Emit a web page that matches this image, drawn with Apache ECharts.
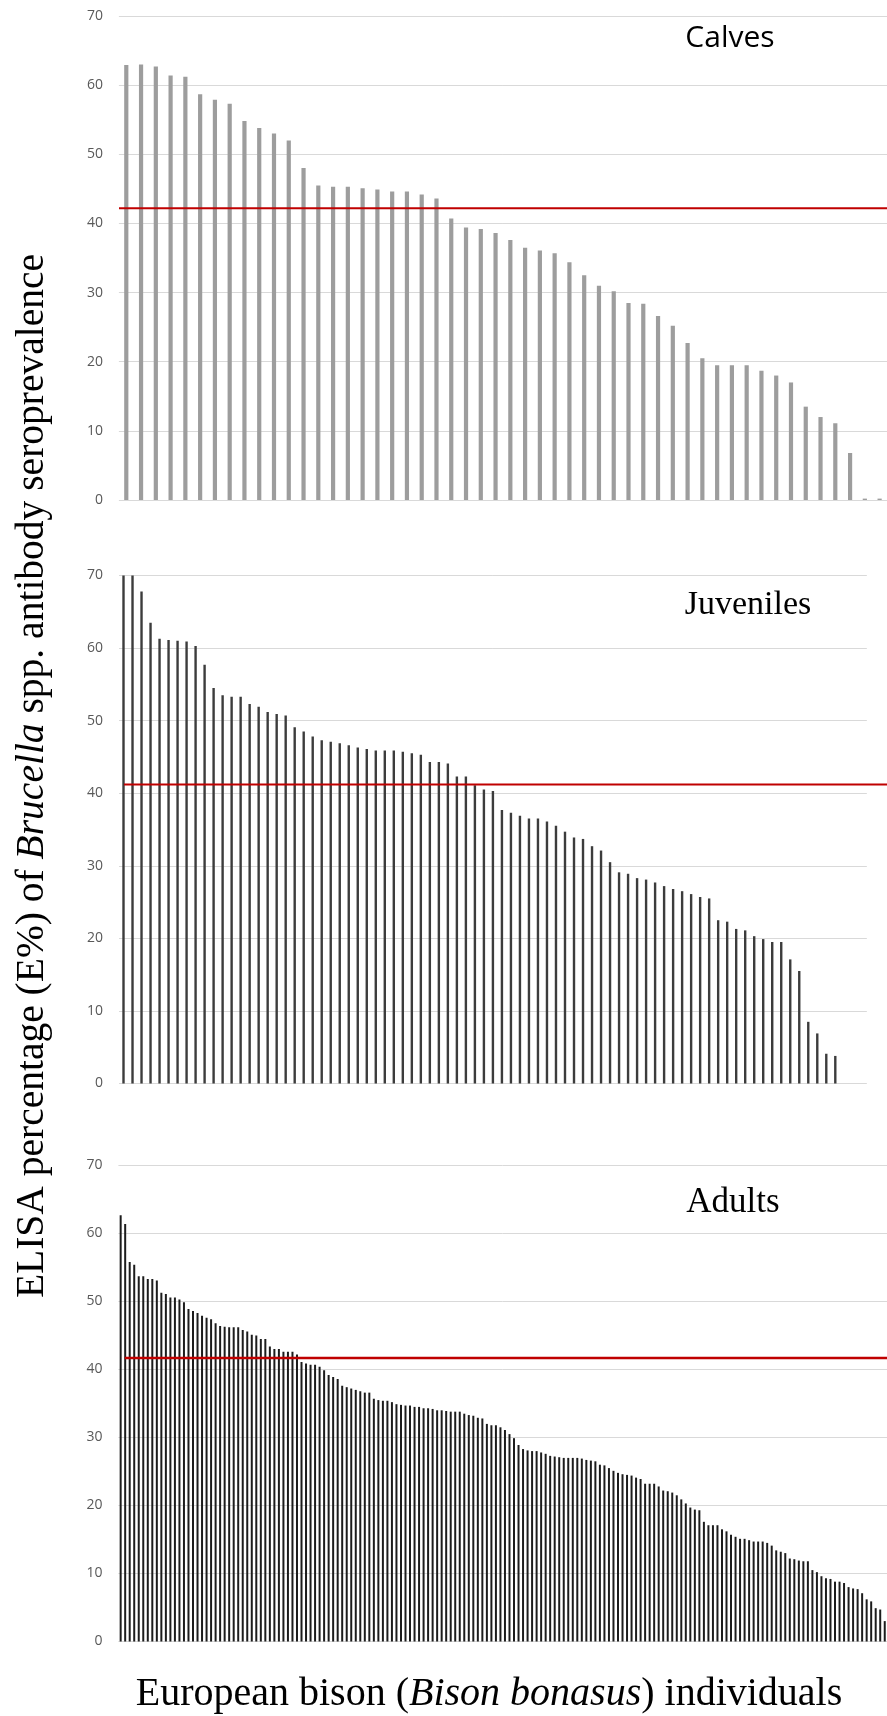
<!DOCTYPE html>
<html>
<head>
<meta charset="utf-8">
<title>Brucella ELISA by age class</title>
<script src="https://cdn.jsdelivr.net/npm/echarts@6/dist/echarts.min.js"></script>
<style>
  html, body { margin: 0; padding: 0; background: #fff; }
  #chart { width: 887px; height: 1716px; }
</style>
</head>
<body>
<div id="chart"></div>
<script>
// E% per animal, sorted high to low
const calvesValues = [
  62.9, 63.0, 62.7, 61.4, 61.2, 58.7, 57.9, 57.3, 54.8, 53.8,
  53.0, 52.0, 48.0, 45.5, 45.3, 45.3, 45.1, 44.9, 44.6, 44.6,
  44.2, 43.6, 40.7, 39.4, 39.2, 38.6, 37.6, 36.5, 36.1, 35.7,
  34.4, 32.5, 31.0, 30.2, 28.5, 28.4, 26.6, 25.2, 22.7, 20.5,
  19.5, 19.5, 19.5, 18.7, 18.0, 17.0, 13.5, 12.0, 11.1, 6.8,
  0.2, 0.2
];

// last three slots are empty in the original sheet
const juvenileValues = [
  70, 70, 67.8, 63.5, 61.3, 61.1, 61.0, 60.9, 60.3, 57.7,
  54.5, 53.5, 53.3, 53.3, 52.3, 51.9, 51.2, 50.9, 50.7, 49.1,
  48.5, 47.8, 47.3, 47.1, 46.9, 46.6, 46.3, 46.1, 45.9, 45.9,
  45.9, 45.7, 45.5, 45.3, 44.3, 44.3, 44.1, 42.3, 42.3, 41.1,
  40.5, 40.3, 37.7, 37.3, 36.9, 36.5, 36.5, 36.1, 35.5, 34.7,
  33.9, 33.7, 32.7, 32.1, 30.5, 29.1, 28.9, 28.3, 28.1, 27.7,
  27.2, 26.8, 26.5, 26.1, 25.7, 25.5, 22.5, 22.3, 21.3, 21.1,
  20.3, 19.9, 19.5, 19.5, 17.1, 15.5, 8.5, 6.9, 4.1, 3.8,
  null, null, null
];

const adultValues = [
  62.7, 61.4, 55.8, 55.4, 53.7, 53.7, 53.3, 53.3, 53.1, 51.3,
  51.1, 50.6, 50.6, 50.3, 49.9, 48.9, 48.6, 48.3, 47.9, 47.6,
  47.4, 46.8, 46.4, 46.3, 46.2, 46.2, 46.2, 45.8, 45.6, 45.1,
  45.0, 44.5, 44.5, 43.4, 43.0, 43.0, 42.6, 42.6, 42.6, 42.2,
  41.1, 40.9, 40.7, 40.7, 40.4, 39.9, 39.2, 38.9, 38.6, 37.6,
  37.4, 37.2, 37.0, 36.8, 36.6, 36.6, 35.7, 35.5, 35.4, 35.4,
  35.2, 34.9, 34.8, 34.7, 34.7, 34.5, 34.5, 34.3, 34.3, 34.2,
  34.0, 34.0, 33.9, 33.8, 33.8, 33.8, 33.5, 33.3, 33.2, 32.9,
  32.8, 32.0, 31.8, 31.8, 31.5, 31.1, 30.5, 29.9, 28.9, 28.3,
  28.1, 28.0, 28.0, 27.8, 27.6, 27.3, 27.2, 27.1, 27.0, 27.0,
  27.0, 27.0, 26.9, 26.7, 26.6, 26.5, 26.0, 25.9, 25.5, 25.1,
  24.8, 24.6, 24.5, 24.4, 24.1, 23.9, 23.2, 23.2, 23.2, 22.8,
  22.2, 22.1, 21.9, 21.5, 20.9, 20.3, 19.7, 19.4, 19.3, 17.6,
  17.1, 17.1, 17.1, 16.5, 16.2, 15.7, 15.4, 15.1, 15.1, 14.9,
  14.7, 14.7, 14.7, 14.5, 14.1, 13.4, 13.2, 13.0, 12.2, 12.1,
  11.9, 11.8, 11.8, 10.5, 10.2, 9.6, 9.3, 9.2, 8.8, 8.8,
  8.6, 8.0, 7.8, 7.7, 7.1, 6.2, 5.9, 4.9, 4.7, 3.0
];

// cut-off (red line) of each panel
const calvesCutoff = 42.2;
const juvenileCutoff = 41.2;
const adultCutoff = 41.7;

const yMin = 0;
const yMax = 70;
const yStep = 10;

const panels = [
  {
    label: "Calves", values: calvesValues, cutoff: calvesCutoff,
    top: 16, height: 484, left: 118.9, slot: 14.88,
    barWidth: 4.2, barColor: "#9d9d9d", lineLeft: 119, lineWidth: 2,
    labelX: 730, labelY: 38, labelFont: '30px "Open Sans"'
  },
  {
    label: "Juveniles", values: juvenileValues, cutoff: juvenileCutoff,
    top: 575.5, height: 508, left: 119, slot: 9.01,
    barWidth: 2.4, barColor: "#3c3c3c", lineLeft: 124, lineWidth: 2,
    labelX: 748, labelY: 605, labelFont: '34px "Liberation Serif"'
  },
  {
    label: "Adults", values: adultValues, cutoff: adultCutoff,
    top: 1165.5, height: 476, left: 118.4, slot: 4.535,
    barWidth: 2, barColor: "#1c1c1c", lineLeft: 124.7, lineWidth: 2.6,
    labelX: 733, labelY: 1203, labelFont: '35px "Liberation Serif"'
  }
];

const grids = [];
const xAxes = [];
const yAxes = [];
const series = [];
const graphics = [];

panels.forEach((p) => {
  // bar panel
  const g = grids.length;
  grids.push({ left: p.left, top: p.top, width: p.values.length * p.slot, height: p.height });
  xAxes.push({
    type: "category", gridIndex: g, show: false,
    data: p.values.map((_, k) => k + 1)
  });
  yAxes.push({
    type: "value", gridIndex: g, min: yMin, max: yMax, interval: yStep,
    axisLine: { show: false },
    axisTick: { show: false },
    axisLabel: { color: "#595959", fontSize: 14, fontFamily: "Open Sans", margin: 16 },
    splitLine: { lineStyle: { color: "#d9d9d9", width: 1 } }
  });
  series.push({
    type: "bar", xAxisIndex: g, yAxisIndex: g, data: p.values,
    barWidth: p.barWidth, silent: true,
    itemStyle: { color: p.barColor }
  });

  // red cut-off line, runs past the plot to the page edge
  const r = grids.length;
  grids.push({ left: p.lineLeft, right: 0, top: p.top, height: p.height });
  xAxes.push({ type: "category", gridIndex: r, show: false, boundaryGap: false, data: ["start", "end"] });
  yAxes.push({ type: "value", gridIndex: r, show: false, min: yMin, max: yMax });
  series.push({
    type: "line", xAxisIndex: r, yAxisIndex: r, data: [p.cutoff, p.cutoff],
    symbol: "none", silent: true, z: 5,
    lineStyle: { color: "#c00000", width: p.lineWidth }
  });

  graphics.push({
    type: "text", x: p.labelX, y: p.labelY,
    style: { text: p.label, font: p.labelFont, fill: "#000", align: "center", verticalAlign: "middle" }
  });
});

const serif = { fontFamily: "Liberation Serif", fill: "#000" };

graphics.push({
  type: "text", x: 33, y: 776, rotation: Math.PI / 2,
  style: {
    text: "{r|ELISA percentage (E%) of }{i|Brucella}{r| spp. antibody seroprevalence}",
    align: "center", verticalAlign: "middle", fill: "#000",
    rich: {
      r: { ...serif, fontSize: 39.5 },
      i: { ...serif, fontSize: 39.5, fontStyle: "italic" }
    }
  }
});

graphics.push({
  type: "text", x: 489, y: 1694,
  style: {
    text: "{r|European bison (}{i|Bison bonasus}{r|) individuals}",
    align: "center", verticalAlign: "middle", fill: "#000",
    rich: {
      r: { ...serif, fontSize: 40 },
      i: { ...serif, fontSize: 40, fontStyle: "italic" }
    }
  }
});

const chart = echarts.init(document.getElementById("chart"));
chart.setOption({
  backgroundColor: "#fff",
  animation: false,
  grid: grids,
  xAxis: xAxes,
  yAxis: yAxes,
  series: series,
  graphic: graphics
});
</script>
</body>
</html>
